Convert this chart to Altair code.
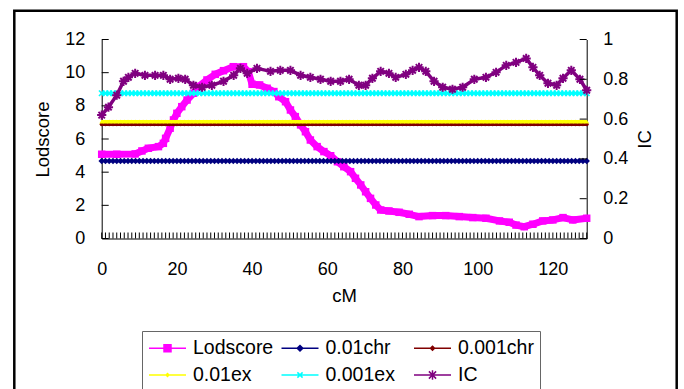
import altair as alt
import pandas as pd

# ---------------- data ----------------
cm_categories = list(range(0, 130))
x_labels = [0, 20, 40, 60, 80, 100, 120]
lod_ticks = [0, 2, 4, 6, 8, 10, 12]
ic_ticks = [0, 0.2, 0.4, 0.6, 0.8, 1.0]

lod_cm = [0, 4, 8.9, 10.7, 12.4, 15.1, 16.4, 17, 18.2, 19.1, 20, 21.3, 22.7, 24.4, 25.8,
          28, 30.2, 32.4, 35, 37.7, 39, 40, 42, 44, 45.8, 47.1, 48.9, 50.2, 51.5, 52.9,
          54.2, 55.5, 57.3, 59.1, 60.9, 62.7, 64.4, 66.2, 67.5, 68.9, 70.2, 71.5, 72.9,
          74.2, 76.4, 79.1, 81.8, 84.4, 88, 91.5, 95.1, 98.7, 102.2, 105.8, 108.4, 110.2,
          112.4, 114.7, 117.3, 120, 122.7, 125.3, 129]
lod_val = [5.08, 5.08, 5.1, 5.28, 5.44, 5.54, 5.74, 6.04, 6.65, 7.15, 7.55, 7.95, 8.35, 8.76,
           9.16, 9.56, 9.9, 10.12, 10.36, 10.36, 10.06, 9.3, 9.26, 9.06, 8.86, 8.55, 8.25,
           7.75, 7.35, 6.85, 6.44, 5.94, 5.54, 5.24, 4.99, 4.63, 4.33, 4.03, 3.63, 3.23,
           2.82, 2.42, 2.02, 1.72, 1.66, 1.58, 1.46, 1.32, 1.38, 1.38, 1.32, 1.26, 1.22,
           1.06, 0.98, 0.81, 0.71, 0.86, 1.06, 1.12, 1.26, 1.12, 1.22]

ic_cm = [0, 1.8, 4, 5.8, 7.1, 8.9, 11.5, 14.2, 16.4, 18.2, 20.4, 22.2, 24.4, 26.7, 29.3,
         32.4, 35.1, 36.9, 38.7, 41.3, 44.9, 47.5, 50.2, 52.9, 55.5, 58.2, 60.9, 63.5,
         65.8, 68.4, 70.2, 72, 74.2, 76.4, 78.2, 80.9, 82.7, 84.4, 86.2, 88.4, 90.7, 93.3,
         96, 99.1, 102.2, 104.9, 107.6, 110.2, 112.9, 114.7, 116.5, 118.7, 121, 122.7,
         124.9, 127.2, 129]
ic_val = [0.62, 0.66, 0.72, 0.79, 0.81, 0.83, 0.82, 0.82, 0.82, 0.80, 0.805, 0.80, 0.77,
          0.76, 0.77, 0.79, 0.82, 0.855, 0.83, 0.855, 0.84, 0.845, 0.845, 0.82, 0.81, 0.80,
          0.79, 0.79, 0.80, 0.77, 0.77, 0.805, 0.84, 0.83, 0.81, 0.825, 0.845, 0.86, 0.84,
          0.79, 0.76, 0.75, 0.76, 0.80, 0.81, 0.835, 0.87, 0.885, 0.905, 0.86, 0.82, 0.78,
          0.77, 0.805, 0.845, 0.80, 0.745]

series_names = ["Lodscore", "0.01chr", "0.001chr", "0.01ex", "0.001ex", "IC"]
series_colors = ["#FF00FF", "#000080", "#800000", "#FFFF00", "#00FFFF", "#800080"]
threshold_names = ["0.01chr", "0.001chr", "0.01ex", "0.001ex"]
threshold_values = [4.67, 6.89, 7.05, 8.76]

# ---------------- styles ----------------
FONT = "Liberation Sans"
W, H = 485, 199
PAD_L, PAD_T = 101.7, 39.5
color_of = dict(zip(series_names, series_colors))

# legend symbol: line from -1 to 2.7 (units of 10 px), marker centred at 0.85
def _lp(marker):
    return "M-1,0H2.7" + marker

CX = 0.85
legend_paths = [
    _lp(f"M{CX-0.35},-0.35H{CX+0.35}V0.35H{CX-0.35}Z"),
    _lp(f"M{CX},-0.28L{CX+0.28},0L{CX},0.28L{CX-0.28},0Z"),
    _lp(f"M{CX},-0.2L{CX+0.2},0L{CX},0.2L{CX-0.2},0Z"),
    _lp(f"M{CX},-0.14L{CX+0.14},0L{CX},0.14L{CX-0.14},0Z"),
    _lp(f"M{CX-0.26},-0.26L{CX+0.26},0.26M{CX-0.26},0.26L{CX+0.26},-0.26"),
    _lp(f"M{CX-0.36},-0.36L{CX+0.36},0.36M{CX-0.36},0.36L{CX+0.36},-0.36M{CX},-0.48V0.48"),
]
thr_style = {
    "0.01chr": dict(shape="diamond", size=42, filled=True, sw=2.5),
    "0.001chr": dict(shape="circle", size=16, filled=True, sw=3.5),
    "0.01ex": dict(shape="triangle-up", size=22, filled=True, sw=3),
    "0.001ex": dict(shape="M-1,-1L1,1M-1,1L1,-1", size=30, filled=False, sw=3),
}

xscale = alt.Scale(domain=[0, 129], nice=False, zero=False)
lscale = alt.Scale(domain=[0, 12], nice=False)
rscale = alt.Scale(domain=[0, 1], nice=False)

x_axis = alt.Axis(values=x_labels, title="cM", ticks=False, tickSize=0,
                  labelPadding=22, titlePadding=8, domainColor="black",
                  labelFlush=False, labelOverlap=False)
l_axis = alt.Axis(values=lod_ticks, title="Lodscore", ticks=False, tickSize=0,
                  labelPadding=17, titlePadding=12, domainColor="black")
r_axis = alt.Axis(orient="right", values=ic_ticks, format="~g", title="IC",
                  ticks=False, tickSize=0, labelPadding=16, titlePadding=8,
                  titleAngle=270, titleBaseline="top", domainColor="black")

def X():
    return alt.X("cm:Q", scale=xscale, axis=x_axis)

def YL():
    return alt.Y("v:Q", scale=lscale, axis=l_axis)

def YR():
    return alt.Y("v:Q", scale=rscale, axis=r_axis)

lod_df = pd.DataFrame({"cm": lod_cm, "v": lod_val})
ic_df = pd.DataFrame({"cm": ic_cm, "v": ic_val})

lod_line = alt.Chart(lod_df).mark_line(color=color_of["Lodscore"], strokeWidth=7,
                                       strokeJoin="bevel").encode(x=X(), y=YL())
lod_pts = alt.Chart(lod_df).mark_point(shape="square", filled=True, size=56, opacity=1,
                                       color=color_of["Lodscore"]).encode(x=X(), y=YL())

thr_layers = []
for name, val in zip(threshold_names, threshold_values):
    st = thr_style[name]
    df = pd.DataFrame({"cm": cm_categories, "v": [val] * len(cm_categories)})
    thr_layers.append(alt.Chart(df).mark_line(color=color_of[name], strokeWidth=st["sw"])
                      .encode(x=X(), y=YL()))
    thr_layers.append(alt.Chart(df).mark_point(shape=st["shape"], size=st["size"],
                                               filled=st["filled"], opacity=1,
                                               color=color_of[name], strokeWidth=1.6)
                      .encode(x=X(), y=YL()))

xtick_df = pd.DataFrame({"cm": cm_categories})
x_ticks = alt.Chart(xtick_df).mark_tick(orient="vertical", size=6, thickness=1,
                                        yOffset=-3, color="black", opacity=1).encode(
    x=X(), y=alt.Y(datum=0, type="quantitative", scale=lscale, axis=l_axis))
lt_df = pd.DataFrame({"v": lod_ticks})
l_ticks = alt.Chart(lt_df).mark_tick(orient="horizontal", size=7, thickness=1,
                                     xOffset=3.5, color="black", opacity=1).encode(
    y=YL(), x=alt.X(datum=0, type="quantitative", scale=xscale, axis=x_axis))

leg_df = pd.DataFrame({"series": series_names})
leg_scale = alt.Scale(domain=series_names, range=series_colors)
legend_layer = alt.Chart(leg_df).mark_point(opacity=1).encode(
    fill=alt.Fill("series:N", scale=leg_scale, legend=alt.Legend(title=None)),
    stroke=alt.Stroke("series:N", scale=leg_scale, legend=alt.Legend(title=None)),
    shape=alt.Shape("series:N", scale=alt.Scale(domain=series_names, range=legend_paths),
                    legend=alt.Legend(title=None)),
).transform_filter("false")

frame = alt.Chart(pd.DataFrame({"a": [0]})).mark_rect(
    fill=None, stroke="black", strokeWidth=2.5).encode(
    x=alt.value(14.3 - PAD_L), x2=alt.value(676.7 - PAD_L),
    y=alt.value(10.8 - PAD_T), y2=alt.value(389 - PAD_T + 20))

left = alt.layer(frame, lod_line, lod_pts, *thr_layers, x_ticks, l_ticks, legend_layer)

ic_line = alt.Chart(ic_df).mark_line(color=color_of["IC"], strokeWidth=3.5).encode(
    x=X(), y=YR())
ic_pts = alt.Chart(ic_df).mark_point(
    shape="M-1,0H1M0,-1V1M-0.7,-0.7L0.7,0.7M-0.7,0.7L0.7,-0.7", size=85, filled=False,
    strokeWidth=2, color=color_of["IC"], opacity=1).encode(x=X(), y=YR())
rt_df = pd.DataFrame({"v": ic_ticks})
r_ticks = alt.Chart(rt_df).mark_tick(orient="horizontal", size=7, thickness=1,
                                     xOffset=-3.5, color="black", opacity=1).encode(
    y=YR(), x=alt.X(datum=129, type="quantitative", scale=xscale, axis=x_axis))
right = alt.layer(ic_line, ic_pts, r_ticks)

chart = alt.layer(left, right).resolve_scale(y="independent").properties(
    width=W, height=H,
    autosize=alt.AutoSizeParams(type="none"),
    padding={"left": PAD_L, "top": PAD_T, "right": 684 - PAD_L - W, "bottom": 389 - PAD_T - H},
    background="white",
).configure_view(stroke=None).configure_axis(
    grid=False, labelFont=FONT, titleFont=FONT, labelFontSize=18, titleFontSize=18.5,
    titleFontWeight="normal", labelColor="black", titleColor="black", domainWidth=1,
).configure_legend(
    orient="none", legendX=142 - PAD_L, legendY=331 - PAD_T, columns=3, direction="horizontal",
    gridAlign="all", symbolSize=400, symbolStrokeWidth=1.5, labelFont=FONT, labelFontSize=19.5,
    labelColor="black", labelOffset=23, padding=6, columnPadding=4.5, rowPadding=6,
    strokeColor="#666666", fillColor="white", symbolOpacity=1, labelLimit=300,
)

chart.save("out.html", embed_options={"renderer": "svg", "actions": False})
